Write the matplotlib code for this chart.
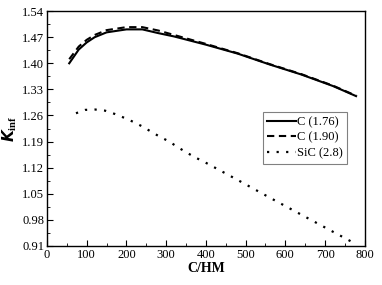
import matplotlib.pyplot as plt
from matplotlib.ticker import MultipleLocator, FormatStrFormatter

plt.rcParams['font.family'] = ['Liberation Serif', 'DejaVu Serif']
plt.rcParams['mathtext.fontset'] = 'custom'
plt.rcParams['mathtext.rm'] = 'Liberation Serif'
plt.rcParams['mathtext.it'] = 'Liberation Serif:italic'
plt.rcParams['mathtext.bf'] = 'Liberation Serif:bold'

# C (1.76) - solid
c176_x = [56, 80, 100, 120, 150, 200, 240, 280, 320, 400, 480, 560, 640, 720, 778]
c176_y = [1.400, 1.437, 1.456, 1.470, 1.483, 1.491, 1.491, 1.481, 1.472, 1.450, 1.426, 1.397, 1.370, 1.339, 1.312]

# C (1.90) - dashed
c190_x = [56, 80, 100, 120, 150, 200, 240, 280, 320, 400, 480, 560, 640, 720, 778]
c190_y = [1.411, 1.445, 1.463, 1.476, 1.489, 1.497, 1.497, 1.488, 1.476, 1.452, 1.427, 1.398, 1.371, 1.340, 1.313]

# SiC (2.8) - dotted
sic_x = [73, 96, 121, 146, 171, 194, 217, 241, 263, 284, 308, 329, 351, 372, 395, 480, 560, 640, 720, 778]
sic_y = [1.266, 1.275, 1.276, 1.273, 1.264, 1.254, 1.243, 1.230, 1.216, 1.203, 1.190, 1.175, 1.161, 1.148, 1.136, 1.087, 1.040, 0.994, 0.948, 0.915]

fig = plt.figure(figsize=(3.82, 2.85), dpi=100)
ax = fig.add_axes([0.123, 0.137, 0.832, 0.824])

ax.plot(c176_x, c176_y, color='black', lw=1.5, label='C (1.76)')
ax.plot(c190_x, c190_y, color='black', lw=1.5, dashes=(3.5, 2.2), label='C (1.90)')
ax.plot(sic_x, sic_y, color='black', lw=1.6, dashes=(1, 3.3), label='SiC (2.8)')

ax.set_xlim(0, 800)
ax.set_ylim(0.91, 1.54)
ax.xaxis.set_major_locator(MultipleLocator(100))
ax.xaxis.set_minor_locator(MultipleLocator(50))
ax.set_yticks([0.91, 0.98, 1.05, 1.12, 1.19, 1.26, 1.33, 1.40, 1.47, 1.54])
ax.yaxis.set_minor_locator(MultipleLocator(0.035))
ax.yaxis.set_major_formatter(FormatStrFormatter('%.2f'))
ax.tick_params(which='both', direction='in', labelsize=9, pad=2)
ax.tick_params(which='major', length=4)
ax.tick_params(which='minor', length=2)
for s in ax.spines.values():
    s.set_linewidth(1.0)

ax.set_xlabel('C/HM', fontsize=10, fontweight='bold', labelpad=1)
ax.set_ylabel(r'$\mathbfit{K}_{\mathbf{inf}}$', fontsize=11, labelpad=2)

leg = ax.legend(loc='lower right', bbox_to_anchor=(0.945, 0.35), fontsize=9,
                fancybox=False, edgecolor='gray', framealpha=1,
                handlelength=2.3, handletextpad=0.1, labelspacing=0.3,
                borderpad=0.35, borderaxespad=0)
leg.get_frame().set_linewidth(0.8)

fig.savefig('out.png', dpi=100)
